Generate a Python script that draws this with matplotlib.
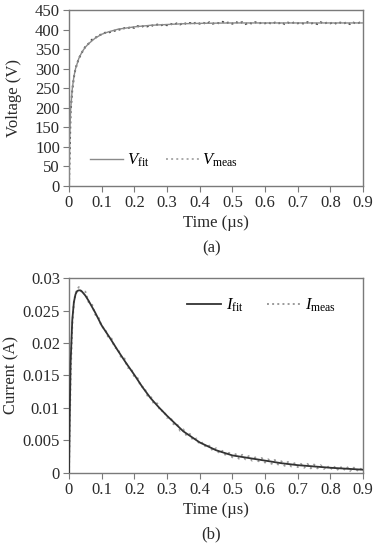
import matplotlib
matplotlib.use('Agg')
import matplotlib.pyplot as plt

plt.rcParams['font.family'] = ['Liberation Serif', 'DejaVu Serif']
plt.rcParams['mathtext.fontset'] = 'custom'
plt.rcParams['mathtext.it'] = 'Liberation Serif:italic'
plt.rcParams['mathtext.rm'] = 'Liberation Serif'

# ---- data ----
t_meas = [0, 0.005, 0.01, 0.015, 0.02, 0.03, 0.04, 0.05, 0.06, 0.07, 0.08, 0.09, 0.10,
          0.11, 0.12, 0.13, 0.14, 0.15, 0.16, 0.17, 0.18, 0.19, 0.20,
          0.21, 0.22, 0.23, 0.24, 0.25, 0.26, 0.27, 0.28, 0.29, 0.30,
          0.31, 0.32, 0.33, 0.34, 0.35, 0.36, 0.37, 0.38, 0.39, 0.40,
          0.41, 0.42, 0.43, 0.44, 0.45, 0.46, 0.47, 0.48, 0.49, 0.50,
          0.51, 0.52, 0.53, 0.54, 0.55, 0.56, 0.57, 0.58, 0.59, 0.60,
          0.61, 0.62, 0.63, 0.64, 0.65, 0.66, 0.67, 0.68, 0.69, 0.70,
          0.71, 0.72, 0.73, 0.74, 0.75, 0.76, 0.77, 0.78, 0.79, 0.80,
          0.81, 0.82, 0.83, 0.84, 0.85, 0.86, 0.87, 0.88, 0.89, 0.90]

v_meas = [2, 190, 245, 278, 300, 326, 342, 356, 364, 374, 378, 386, 387,
          392, 391, 396, 397, 401, 399, 404, 403, 408, 404,
          409, 406, 410, 408, 412, 409, 413, 410, 414, 411,
          415, 412, 416, 413, 418, 414, 417, 414, 419, 415,
          418, 414, 419, 415, 418, 416, 420, 416, 419, 415,
          420, 416, 419, 414, 418, 415, 419, 415, 418, 416,
          419, 414, 418, 415, 419, 414, 418, 415, 419, 416,
          418, 414, 419, 415, 418, 414, 419, 415, 418, 416,
          419, 414, 418, 415, 419, 414, 418, 415, 418, 416]

i_meas = [0, 0.0150, 0.0228, 0.0262, 0.0277, 0.0286, 0.0278, 0.0279, 0.0263, 0.0260, 0.0244, 0.0240, 0.0225,
          0.0222, 0.0209, 0.0207, 0.0193, 0.0191, 0.0177, 0.0176, 0.0162, 0.0161, 0.0148,
          0.0146, 0.0133, 0.0132, 0.0119, 0.0118, 0.0106, 0.0107, 0.0095, 0.0096, 0.0085,
          0.0086, 0.0075, 0.0076, 0.0065, 0.0067, 0.0057, 0.0060, 0.0050, 0.0053, 0.0044,
          0.0047, 0.0039, 0.0042, 0.0034, 0.0038, 0.0030, 0.0034, 0.0027, 0.0031, 0.0024,
          0.0029, 0.0022, 0.0028, 0.0021, 0.0026, 0.0019, 0.0024, 0.0018, 0.0023, 0.0016,
          0.0021, 0.0014, 0.0020, 0.0013, 0.0018, 0.0011, 0.0017, 0.0010, 0.0015, 0.0009,
          0.0014, 0.0008, 0.0014, 0.0007, 0.0013, 0.0007, 0.0012, 0.0006, 0.0011, 0.0005,
          0.0011, 0.0004, 0.0010, 0.0004, 0.0010, 0.0003, 0.0009, 0.0003, 0.0008, 0.0002]

t_fit_v = [0, 0.002, 0.005, 0.01, 0.015, 0.02, 0.03, 0.04, 0.05, 0.06, 0.08, 0.10,
           0.12, 0.15, 0.20, 0.25, 0.30, 0.35, 0.40, 0.50, 0.60, 0.70, 0.80, 0.90]
v_fit = [0, 120, 195, 248, 280, 300, 326, 343, 355, 364, 378, 388,
         394, 401, 407, 411, 413, 415, 416, 417, 417, 417, 417, 417]

t_fit_i = [0, 0.002, 0.005, 0.01, 0.015, 0.02, 0.025, 0.03, 0.035, 0.04, 0.05, 0.06,
           0.08, 0.10, 0.125, 0.15, 0.175, 0.20, 0.225, 0.25, 0.275, 0.30, 0.35, 0.40,
           0.45, 0.50, 0.55, 0.60, 0.65, 0.70, 0.75, 0.80, 0.85, 0.90]
i_fit = [0, 0.008, 0.017, 0.0235, 0.0263, 0.0275, 0.0280, 0.0281, 0.0281, 0.0279, 0.0273, 0.0265,
         0.0247, 0.0227, 0.0208, 0.0188, 0.0169, 0.0151, 0.0132, 0.0115, 0.0101, 0.0088, 0.0064, 0.0047,
         0.0035, 0.0027, 0.0023, 0.0019, 0.0015, 0.0012, 0.0010, 0.0008, 0.00065, 0.0005]

x_ticks = [0, 0.1, 0.2, 0.3, 0.4, 0.5, 0.6, 0.7, 0.8, 0.9]
x_ticklabels = ['0', '0.1', '0.2', '0.3', '0.4', '0.5', '0.6', '0.7', '0.8', '0.9']
v_ticks = [0, 50, 100, 150, 200, 250, 300, 350, 400, 450]
i_ticks = [0, 0.005, 0.01, 0.015, 0.02, 0.025, 0.03]
i_ticklabels = ['0', '0.005', '0.01', '0.015', '0.02', '0.025', '0.03']


def style(ax):
    for s in ax.spines.values():
        s.set_color('#7a7a7a')
        s.set_linewidth(1.0)
    ax.tick_params(direction='out', length=4, width=0.8, color='#7a7a7a',
                   labelsize=12, labelcolor='#2a2a2a', pad=2.5)
    ax.set_xlim(0, 0.9)
    ax.set_xticks(x_ticks)
    ax.set_xticklabels(x_ticklabels)


fig = plt.figure(figsize=(3.77, 5.43), dpi=100)

ax1 = fig.add_axes([0.183, 0.6575, 0.78, 0.324])
ax1.plot(t_meas, v_meas, ':', color='#4a4a4a', lw=1.4, label=r'$V_{\mathrm{meas}}$', zorder=2)
ax1.plot(t_fit_v, v_fit, '-', color='#8a8a8a', lw=1.0, label=r'$V_{\mathrm{fit}}$', zorder=3)
style(ax1)
ax1.set_ylim(0, 450)
ax1.set_yticks(v_ticks)
ax1.set_xlabel('Time (µs)', fontsize=12, color='#2a2a2a', labelpad=3)
ax1.set_ylabel('Voltage (V)', fontsize=12, color='#2a2a2a', labelpad=9)
h, l = ax1.get_legend_handles_labels()
leg1 = ax1.legend(h[::-1], l[::-1], ncol=2, frameon=False, loc='lower left',
                  bbox_to_anchor=(0.02, 0.01), fontsize=12, handlelength=2.0,
                  columnspacing=1.0, handletextpad=0.2)
leg1.get_lines()[1].set_color('#aaaaaa')
fig.text(0.56, 0.543, '(a)', ha='center', va='center', fontsize=12, color='#2a2a2a')

ax2 = fig.add_axes([0.183, 0.129, 0.78, 0.359])
ax2.plot(t_meas, i_meas, ':', color='#9a9a9a', lw=1.4, label=r'$I_{\mathrm{meas}}$', zorder=2)
ax2.plot(t_fit_i, i_fit, '-', color='#333333', lw=1.3, label=r'$I_{\mathrm{fit}}$', zorder=3)
style(ax2)
ax2.set_ylim(0, 0.03)
ax2.set_yticks(i_ticks)
ax2.set_yticklabels(i_ticklabels)
ax2.set_xlabel('Time (µs)', fontsize=12, color='#2a2a2a', labelpad=3)
ax2.set_ylabel('Current (A)', fontsize=12, color='#2a2a2a', labelpad=2)
h, l = ax2.get_legend_handles_labels()
ax2.legend(h[::-1], l[::-1], ncol=2, frameon=False, loc='upper right',
           bbox_to_anchor=(0.96, 0.98), fontsize=12, handlelength=2.0,
           columnspacing=1.4, handletextpad=0.3)
fig.text(0.56, 0.015, '(b)', ha='center', va='center', fontsize=12, color='#2a2a2a')

fig.savefig('out.png', dpi=100)
